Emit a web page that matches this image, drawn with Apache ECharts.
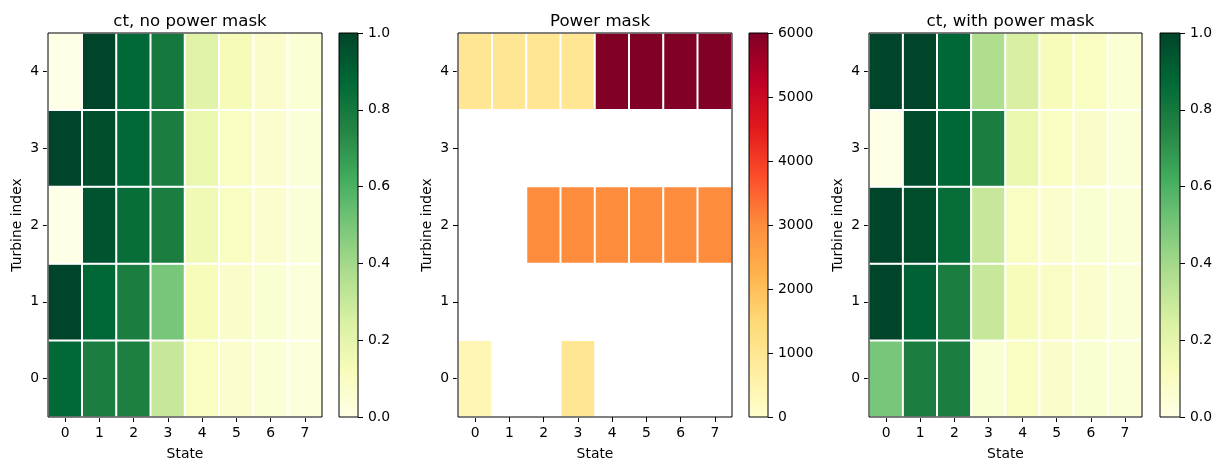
<!DOCTYPE html>
<html>
<head>
<meta charset="utf-8">
<script src="https://cdn.jsdelivr.net/npm/echarts@6/dist/echarts.min.js"></script>
<style>
  html, body { margin: 0; padding: 0; background: #fff; }
  #chart { width: 1220px; height: 470px; }
</style>
</head>
<body>
<div id="chart"></div>
<script>
// axes categories
var states = ['0', '1', '2', '3', '4', '5', '6', '7'];
var turbines = ['0', '1', '2', '3', '4'];

// ct without power mask, rows = turbine 0..4, cols = state 0..7
var ctNoMask = [
	[0.87, 0.78, 0.77, 0.30, 0.10, 0.07, 0.05, 0.03],
	[1.00, 0.88, 0.78, 0.50, 0.12, 0.08, 0.06, 0.03],
	[0.00, 0.95, 0.85, 0.78, 0.15, 0.10, 0.07, 0.04],
	[1.00, 0.97, 0.87, 0.78, 0.18, 0.10, 0.07, 0.04],
	[0.00, 1.00, 0.87, 0.80, 0.22, 0.13, 0.08, 0.05]
];

// power mask, null = no value (left blank)
var powerMask = [
	[400, null, null, 1000, null, null, null, null],
	[null, null, null, null, null, null, null, null],
	[null, null, 3000, 3000, 3000, 3000, 3000, 3000],
	[null, null, null, null, null, null, null, null],
	[1000, 1000, 1000, 1000, 6000, 6000, 6000, 6000]
];

// ct with power mask
var ctWithMask = [
	[0.50, 0.78, 0.78, 0.06, 0.10, 0.08, 0.06, 0.04],
	[1.00, 0.90, 0.78, 0.30, 0.12, 0.09, 0.07, 0.04],
	[1.00, 0.97, 0.85, 0.30, 0.10, 0.07, 0.06, 0.04],
	[0.00, 0.98, 0.88, 0.78, 0.18, 0.10, 0.08, 0.04],
	[1.00, 1.00, 0.88, 0.37, 0.25, 0.12, 0.10, 0.05]
];

// colormaps
var ylGn = ['#ffffe5', '#f7fcb9', '#d9f0a3', '#addd8e', '#78c679', '#41ab5d', '#238443', '#006837', '#004529'];
var ylOrRd = ['#ffffcc', '#ffeda0', '#fed976', '#feb24c', '#fd8d3c', '#fc4e2a', '#e31a1c', '#bd0026', '#800026'];

var titles = ['ct, no power mask', 'Power mask', 'ct, with power mask'];

var FONT = 'DejaVu Sans';

var chart = echarts.init(document.getElementById('chart'));

// panel layout: plot area + colorbar
var panels = [
	{ left: 48, width: 274, cbLeft: 339, cbWidth: 19 },
	{ left: 458, width: 274, cbLeft: 749, cbWidth: 19 },
	{ left: 869, width: 273, cbLeft: 1160, cbWidth: 20 }
];
var TOP = 33, HEIGHT = 384;

var ranges = [
	{ min: 0, max: 1, interval: 0.2, cmap: ylGn, digits: 1 },
	{ min: 0, max: 6000, interval: 1000, cmap: ylOrRd, digits: 0 },
	{ min: 0, max: 1, interval: 0.2, cmap: ylGn, digits: 1 }
];
var matrices = [ctNoMask, powerMask, ctWithMask];

function toCells(m) {
	var out = [];
	for (var r = 0; r < m.length; r++) {
		for (var c = 0; c < m[r].length; c++) {
			if (m[r][c] !== null) out.push([c, r, m[r][c]]);
		}
	}
	return out;
}

var grid = [], xAxis = [], yAxis = [], series = [], visualMap = [], title = [];

panels.forEach(function (p, i) {
	var rg = ranges[i];
	// heatmap grid, border drawn above the cells
	grid.push({ left: p.left, top: TOP, width: p.width, height: HEIGHT, show: true, z: 10, borderColor: '#000', borderWidth: 1, backgroundColor: 'transparent' });
	// colorbar grid
	grid.push({ left: p.cbLeft, top: TOP, width: p.cbWidth, height: HEIGHT, show: true, z: 10, borderColor: '#000', borderWidth: 1, backgroundColor: 'transparent' });

	title.push({
		text: titles[i], left: p.left + p.width / 2, top: 8, textAlign: 'center',
		textStyle: { fontFamily: FONT, fontSize: 16.6, fontWeight: 'normal', color: '#000' }
	});

	xAxis.push({
		type: 'category', gridIndex: 2 * i, data: states,
		name: 'State', nameLocation: 'middle', nameGap: 30,
		nameTextStyle: { fontFamily: FONT, fontSize: 13.9, color: '#000' },
		axisLine: { show: false },
		axisTick: { show: true, alignWithLabel: true, length: 5, lineStyle: { color: '#000' } },
		axisLabel: { fontFamily: FONT, fontSize: 13.9, color: '#000', margin: 9 },
		splitLine: { show: false }, splitArea: { show: false }
	});
	yAxis.push({
		type: 'category', gridIndex: 2 * i, data: turbines,
		name: 'Turbine index', nameLocation: 'middle', nameGap: 24,
		nameTextStyle: { fontFamily: FONT, fontSize: 13.9, color: '#000' },
		axisLine: { show: false },
		axisTick: { show: true, alignWithLabel: true, length: 5, lineStyle: { color: '#000' } },
		axisLabel: { fontFamily: FONT, fontSize: 13.9, color: '#000', margin: 9 },
		splitLine: { show: false }, splitArea: { show: false }
	});

	// colorbar axes
	xAxis.push({ type: 'category', gridIndex: 2 * i + 1, data: [''], show: false });
	yAxis.push({
		type: 'value', gridIndex: 2 * i + 1, position: 'right',
		min: rg.min, max: rg.max, interval: rg.interval,
		axisLine: { show: false },
		axisTick: { show: true, length: 5, lineStyle: { color: '#000' } },
		axisLabel: {
			fontFamily: FONT, fontSize: 13.9, color: '#000', margin: 10,
			formatter: function (v) { return v.toFixed(rg.digits); }
		},
		splitLine: { show: false }
	});

	series.push({
		type: 'heatmap', xAxisIndex: 2 * i, yAxisIndex: 2 * i,
		data: toCells(matrices[i]),
		itemStyle: { borderColor: '#fff', borderWidth: 2 },
		emphasis: { disabled: true }
	});

	var stops = rg.cmap.map(function (c, k) { return { offset: k / (rg.cmap.length - 1), color: c }; });
	series.push({
		type: 'bar', xAxisIndex: 2 * i + 1, yAxisIndex: 2 * i + 1,
		data: [rg.max], barWidth: '100%', silent: true,
		itemStyle: { color: new echarts.graphic.LinearGradient(0, 1, 0, 0, stops) }
	});

	visualMap.push({
		type: 'continuous', show: false, seriesIndex: 2 * i,
		min: rg.min, max: rg.max, inRange: { color: rg.cmap }
	});
});

chart.setOption({
	animation: false,
	backgroundColor: '#fff',
	title: title,
	grid: grid,
	xAxis: xAxis,
	yAxis: yAxis,
	visualMap: visualMap,
	series: series
});
</script>
</body>
</html>
